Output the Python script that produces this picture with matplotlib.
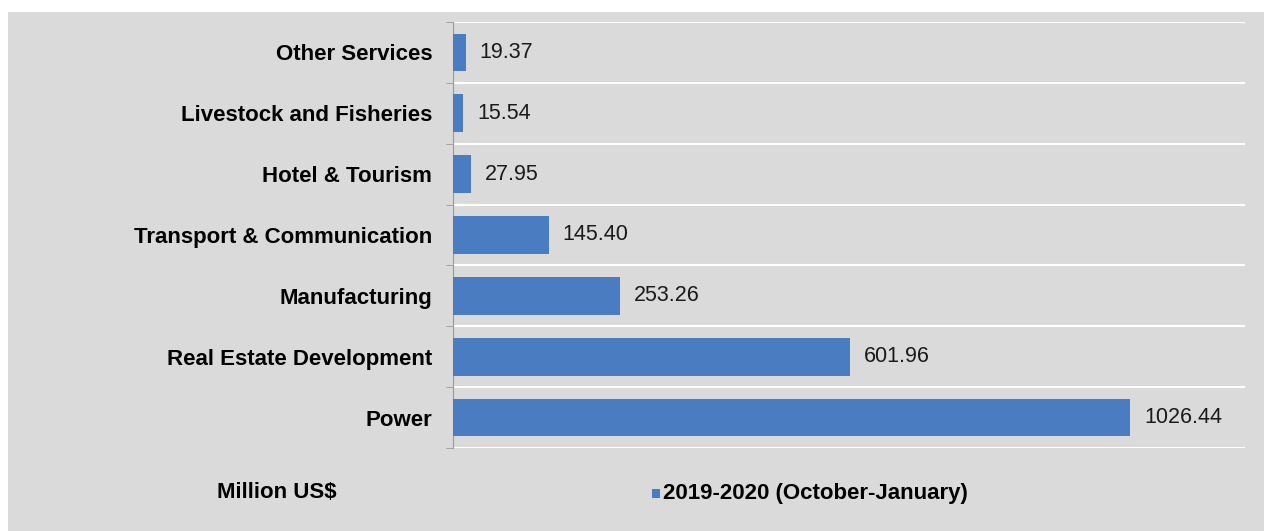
import matplotlib.pyplot as plt
import numpy as np
from matplotlib.patches import Rectangle

plt.rcParams['font.family'] = ['Liberation Sans', 'DejaVu Sans']

# sectors, bottom to top
sectors = ["Power", "Real Estate Development", "Manufacturing",
           "Transport & Communication", "Hotel & Tourism",
           "Livestock and Fisheries", "Other Services"]
values = [1026.44, 601.96, 253.26, 145.40, 27.95, 15.54, 19.37]
series_name = "2019-2020 (October-January)"
unit_label = "Million US$"

bar_color = "#4a7cc1"
panel_color = "#dadada"

fig = plt.figure(figsize=(12.74, 5.31), dpi=100)
fig.patch.set_facecolor("white")
# grey panel behind the chart
fig.patches.append(Rectangle((8/1274, 0), 1256/1274, 1 - 12/531,
                             transform=fig.transFigure, facecolor=panel_color,
                             edgecolor="none", zorder=-10))

ax = fig.add_axes([453/1274, 1 - 448/531, (1245 - 453)/1274, (448 - 22)/531])
ax.set_facecolor("none")

y = np.arange(len(sectors))
ax.barh(y, values, height=0.62, color=bar_color, zorder=3)
for yi, v in zip(y, values):
    ax.annotate(f"{v:.2f}", (v, yi), xytext=(10, 0), textcoords="offset points",
                va="center", ha="left", fontsize=15.5, color="#1a1a1a")

ax.set_xlim(0, 1200)
ax.set_ylim(-0.5, len(sectors) - 0.5)

# white separators between categories
for b in np.arange(-0.5, len(sectors), 1.0):
    ax.axhline(b, color="white", lw=1.5, zorder=1)

ax.set_yticks(y)
ax.set_yticklabels(sectors, fontsize=16, fontweight="bold")
ax.set_yticks(np.arange(-0.5, len(sectors), 1.0), minor=True)
ax.tick_params(axis="y", which="major", length=0, pad=15)
ax.tick_params(axis="y", which="minor", length=5, color="#999999", direction="out")
ax.set_xticks([])
for s in ["top", "right", "bottom"]:
    ax.spines[s].set_visible(False)
ax.spines["left"].set_color("#999999")

fig.text(277/1274, 1 - 493/531, unit_label, ha="center", va="center",
         fontsize=16, fontweight="bold")
fig.patches.append(Rectangle((652/1274, 1 - 498/531), 8/1274, 9/531,
                             transform=fig.transFigure, facecolor=bar_color,
                             edgecolor="none"))
fig.text(663/1274, 1 - 493/531, series_name, ha="left", va="center",
         fontsize=16, fontweight="bold")

fig.savefig("out.png", dpi=100)
